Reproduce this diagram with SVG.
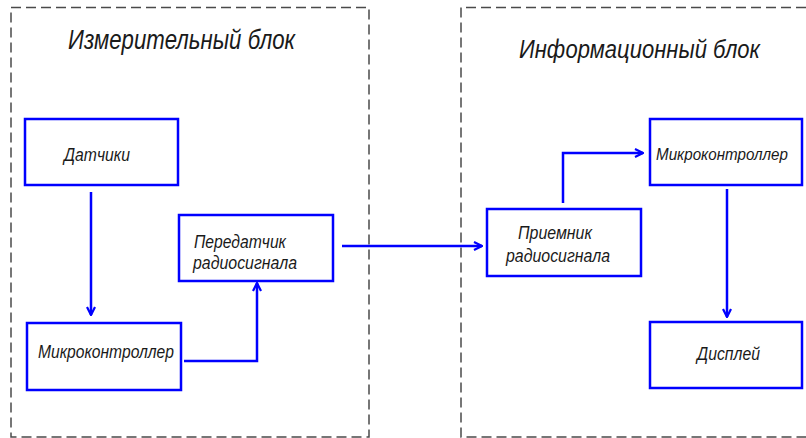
<svg xmlns="http://www.w3.org/2000/svg" width="806" height="438" viewBox="0 0 806 438">
<style>
.frame{fill:none;stroke:#4a4a4a;stroke-width:1.5;stroke-dasharray:10 5}
.box{fill:#fff;stroke:#0000ff;stroke-width:2.5}
.conn{fill:none;stroke:#0000ff;stroke-width:2.5}
.t{font-family:"Liberation Sans",Arial,sans-serif;font-style:italic;fill:#1a1a1a}
.title{font-size:28px}
.lbl{font-size:18px}
</style>
<defs>
<marker id="arr" viewBox="0 0 10 10" refX="9" refY="5" markerWidth="10" markerHeight="10" markerUnits="userSpaceOnUse" orient="auto">
<path d="M1,1 L9,5 L1,9" fill="none" stroke="#0000ff" stroke-width="2.2"/>
</marker>
</defs>
<rect width="806" height="438" fill="#fff"/>
<g id="frame-measure">
<rect class="frame" x="11" y="7.5" width="358" height="429.5"/>
<text class="t title" x="68" y="49" textLength="227" lengthAdjust="spacingAndGlyphs">Измерительный блок</text>
</g>
<g id="frame-info">
<path class="frame" d="M806,7.5 H461 V437 H806"/>
<text class="t" x="519" y="58" font-size="25.5" textLength="241" lengthAdjust="spacingAndGlyphs">Информационный блок</text>
</g>
<g id="connectors">
<path class="conn" d="M91,192 V315" marker-end="url(#arr)"/>
<path class="conn" d="M184,361 H257 V283" marker-end="url(#arr)"/>
<path class="conn" d="M342,246 H482" marker-end="url(#arr)"/>
<path class="conn" d="M563,203 V153 H643" marker-end="url(#arr)"/>
<path class="conn" d="M727,189 V317" marker-end="url(#arr)"/>
</g>
<g id="sensors">
<rect class="box" x="25" y="119" width="153" height="66"/>
<text class="t lbl" x="64" y="161" textLength="66" lengthAdjust="spacingAndGlyphs">Датчики</text>
</g>
<g id="mcu1">
<rect class="box" x="27" y="323" width="154" height="67"/>
<text class="t lbl" x="38" y="358" textLength="136" lengthAdjust="spacingAndGlyphs">Микроконтроллер</text>
</g>
<g id="transmitter">
<rect class="box" x="179" y="215" width="154" height="66"/>
<text class="t lbl" x="194" y="248" textLength="92" lengthAdjust="spacingAndGlyphs">Передатчик</text>
<text class="t lbl" x="193" y="269" textLength="104" lengthAdjust="spacingAndGlyphs">радиосигнала</text>
</g>
<g id="receiver">
<rect class="box" x="487" y="209" width="154" height="67"/>
<text class="t lbl" x="518" y="239" textLength="74" lengthAdjust="spacingAndGlyphs">Приемник</text>
<text class="t lbl" x="506" y="262" textLength="104" lengthAdjust="spacingAndGlyphs">радиосигнала</text>
</g>
<g id="mcu2">
<rect class="box" x="650" y="119" width="152" height="66"/>
<text class="t" x="656" y="160" font-size="16.5" textLength="132" lengthAdjust="spacingAndGlyphs">Микроконтроллер</text>
</g>
<g id="display">
<rect class="box" x="650" y="322" width="152" height="66"/>
<text class="t lbl" x="697" y="360" textLength="63" lengthAdjust="spacingAndGlyphs">Дисплей</text>
</g>
</svg>
